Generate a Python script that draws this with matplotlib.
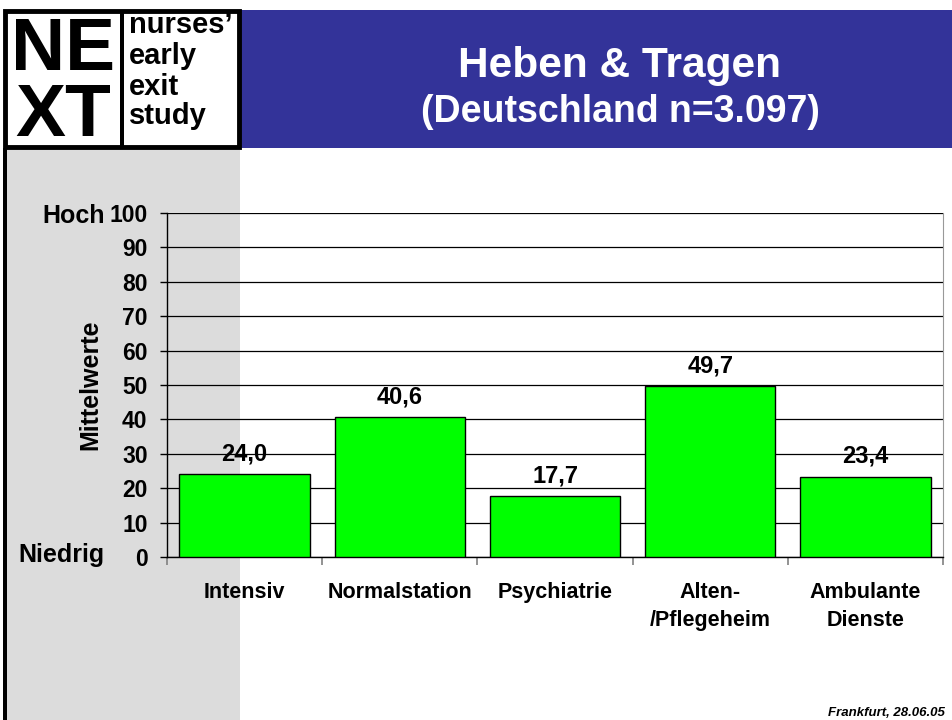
import matplotlib.pyplot as plt
from matplotlib.patches import Rectangle
from matplotlib.transforms import blended_transform_factory

plt.rcParams['font.family'] = ['Liberation Sans', 'DejaVu Sans']

categories = ['Intensiv', 'Normalstation', 'Psychiatrie', 'Alten-\n/Pflegeheim', 'Ambulante\nDienste']
values = [24.0, 40.6, 17.7, 49.7, 23.4]
yticks = [0, 10, 20, 30, 40, 50, 60, 70, 80, 90, 100]
logo_words = ['nurses\u2019', 'early', 'exit', 'study']

fig = plt.figure(figsize=(9.52, 7.2), dpi=100)
W, H = 952.0, 720.0

def px(x0, y0, x1, y1):
    # pixel box (top-left origin) -> figure fraction rect
    return (x0 / W, 1 - y1 / H, (x1 - x0) / W, (y1 - y0) / H)

def add_rect(x0, y0, x1, y1, **kw):
    l, b, w, h = px(x0, y0, x1, y1)
    fig.patches.append(Rectangle((l, b), w, h, transform=fig.transFigure, **kw))

# background: grey strip, blue banner, logo box
add_rect(5, 148, 240, 720, facecolor='#dcdcdc', edgecolor='none', zorder=0)
add_rect(3, 148, 7, 720, facecolor='black', edgecolor='none', zorder=1)
add_rect(240, 10, 952, 148, facecolor='#333399', edgecolor='none', zorder=0)
add_rect(5, 11, 239, 147, facecolor='white', edgecolor='black', linewidth=3.5, zorder=1)
add_rect(120, 10, 124, 148, facecolor='black', edgecolor='none', zorder=2)

# logo letters as one two-line text (baseline = last line, y=136 px)
fig.text(63 / W, 1 - 136 / H, 'NE\nXT', fontsize=54, fontweight='bold',
         ha='center', va='baseline', multialignment='center', linespacing=0.94)
for w, yb in zip(logo_words, [33, 64, 95, 124]):
    fig.text(129 / W, 1 - yb / H, w, fontsize=21, fontweight='bold',
             ha='left', va='baseline')

fig.text(620 / W, 1 - 66 / H, 'Heben & Tragen', color='white', fontsize=30.5,
         fontweight='bold', ha='center', va='center')
fig.text(620 / W, 1 - 112 / H, '(Deutschland n=3.097)', color='white', fontsize=27,
         fontweight='bold', ha='center', va='center')

# chart
ax = fig.add_axes(px(167, 213, 943, 557))
ax.set_zorder(5)
ax.patch.set_alpha(0)
x = range(len(categories))
ax.bar(x, values, width=0.84, color='#00ff00', edgecolor='black', linewidth=1, zorder=3)
for xi, v in zip(x, values):
    ax.annotate(f'{v:.1f}'.replace('.', ','), (xi, v), xytext=(0, 10),
                textcoords='offset points', ha='center', va='baseline',
                fontsize=17, fontweight='bold')

ax.set_xlim(-0.5, len(categories) - 0.5)
ax.set_ylim(0, 100)
ax.set_yticks(yticks)
ax.set_yticklabels([str(t) for t in yticks], fontsize=16.5, fontweight='bold')
ax.yaxis.grid(True, color='black', linewidth=0.9)
ax.set_axisbelow(True)
ax.tick_params(axis='y', length=5, width=1, pad=9)

ax.set_xticks(list(x))
ax.set_xticklabels(categories, fontsize=15.5, fontweight='bold', linespacing=1.45)
ax.set_xticks([i - 0.5 for i in range(len(categories) + 1)], minor=True)
ax.tick_params(axis='x', which='major', length=0, pad=18)
ax.tick_params(axis='x', which='minor', length=6, width=1.2, color='#808080')

ax.spines['top'].set_visible(False)
ax.spines['right'].set_color('#999999')
ax.spines['left'].set_linewidth(1)
ax.spines['bottom'].set_linewidth(1)

tr = blended_transform_factory(ax.transAxes, ax.transData)
ax.text(-0.080, 97.1, 'Hoch', transform=tr, ha='right', va='baseline', fontsize=18, fontweight='bold')
ax.text(-0.080, -1.4, 'Niedrig', transform=tr, ha='right', va='baseline', fontsize=18, fontweight='bold')
ax.text(-0.099, 0.5, 'Mittelwerte', transform=ax.transAxes, rotation=90,
        ha='center', va='center', fontsize=18, fontweight='bold')

fig.text(945 / W, 1 - 713 / H, 'Frankfurt, 28.06.05', fontsize=9.5, fontweight='bold',
         fontstyle='italic', ha='right', va='center')

fig.savefig('out.png', dpi=100)
